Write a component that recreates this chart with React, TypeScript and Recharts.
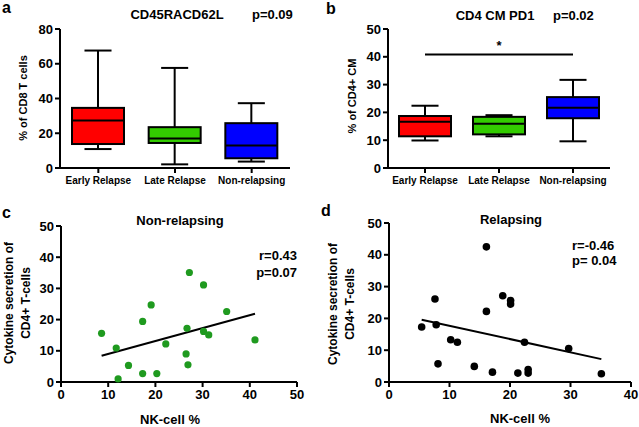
import React from 'react';
import {
  ComposedChart, Bar, XAxis, YAxis, ScatterChart, Scatter, ReferenceLine,
} from 'recharts';

const groups = ['Early Relapse', 'Late Relapse', 'Non-relapsing'];
const groupColors = ['#ff0000', '#33cc00', '#0000ff'];

// panel a: CD45RACD62L (% of CD8 T cells)
const cd8Min = [10.9, 2.1, 3.7];
const cd8Q1 = [13.8, 14.4, 5.6];
const cd8Median = [27.3, 17.0, 13.0];
const cd8Q3 = [34.6, 23.5, 25.8];
const cd8Max = [67.6, 57.6, 37.3];
const cd8Ticks = [0, 20, 40, 60, 80];

// panel b: CD4 CM PD1 (% of CD4+ CM)
const pd1Min = [9.9, 11.4, 9.6];
const pd1Q1 = [11.4, 12.1, 17.9];
const pd1Median = [16.6, 15.9, 21.7];
const pd1Q3 = [18.7, 18.4, 25.5];
const pd1Max = [22.4, 19.0, 31.7];
const pd1Ticks = [0, 10, 20, 30, 40, 50];
const pd1Signif = 40.8;

// panel c: non-relapsing
const nonRelX = [8.6, 11.7, 12.1, 14.3, 17.3, 17.3, 19.1, 20.3, 22.2, 26.5, 26.7, 26.9, 27.2, 30.2, 30.2, 31.3, 35.1, 41.1];
const nonRelY = [15.6, 10.9, 1.0, 5.3, 19.4, 2.7, 24.7, 2.7, 12.2, 9.0, 17.2, 5.5, 35.1, 31.1, 16.2, 15.1, 22.6, 13.5];
const nonRelTrendX = [8.6, 41.1];
const nonRelTrendY = [8.4, 21.9];

// panel d: relapsing
const relX = [5.4, 7.6, 7.8, 8.1, 10.2, 11.3, 14.1, 16.1, 16.1, 17.1, 18.8, 20.1, 20.1, 21.3, 22.4, 23.0, 23.0, 29.7, 35.1];
const relY = [17.3, 26.1, 18.0, 5.7, 13.3, 12.5, 4.9, 42.5, 22.2, 3.1, 27.1, 25.6, 24.5, 2.8, 12.5, 3.9, 2.8, 10.5, 2.6];
const relTrendX = [5.4, 35.1];
const relTrendY = [19.6, 7.2];

const scatterTicksC = [0, 10, 20, 30, 40, 50];
const scatterTicksD = [0, 10, 20, 30, 40];

const FONT = '"Liberation Sans", Arial, sans-serif';

const buildBoxes = (mn: number[], q1: number[], med: number[], q3: number[], mx: number[]) =>
  groups.map((name, i) => ({
    name, color: groupColors[i],
    min: mn[i], q1: q1[i], median: med[i], q3: q3[i], max: mx[i],
    range: [mn[i], mx[i]],
  }));

const toPoints = (xs: number[], ys: number[]) => xs.map((x, i) => ({ x, y: ys[i] }));

const BoxShape = (props: any) => {
  const { x, y, width, height, payload } = props;
  const top = Math.min(y, y + height);
  const bottom = Math.max(y, y + height);
  const span = payload.max - payload.min;
  const py = (v: number) => top + ((payload.max - v) / span) * (bottom - top);
  const cx = x + width / 2;
  const cap = width * 0.26;
  return (
    <g>
      <line x1={cx} x2={cx} y1={py(payload.max)} y2={py(payload.q3)} stroke="#000" strokeWidth={2} />
      <line x1={cx} x2={cx} y1={py(payload.q1)} y2={py(payload.min)} stroke="#000" strokeWidth={2} />
      <line x1={cx - cap} x2={cx + cap} y1={py(payload.max)} y2={py(payload.max)} stroke="#000" strokeWidth={2} />
      <line x1={cx - cap} x2={cx + cap} y1={py(payload.min)} y2={py(payload.min)} stroke="#000" strokeWidth={2} />
      <rect x={x} y={py(payload.q3)} width={width} height={py(payload.q1) - py(payload.q3)}
        fill={payload.color} stroke="#000" strokeWidth={2} />
      <line x1={x} x2={x + width} y1={py(payload.median)} y2={py(payload.median)} stroke="#000" strokeWidth={2} />
    </g>
  );
};

const axisStyle = { stroke: '#000', strokeWidth: 2 };
const tickFont = { fontFamily: FONT, fontWeight: 700, fontSize: 13, fill: '#000' };
const catFont = { fontFamily: FONT, fontWeight: 700, fontSize: 10, fill: '#000' };

const BoxPanel = ({ data, width, yWidth, right, domain, ticks, signif }: any) => (
  <ComposedChart width={width} height={210} data={data} margin={{ top: 29, right, bottom: 0, left: 0 }}>
    <XAxis dataKey="name" height={42} axisLine={axisStyle} tickLine={axisStyle} tickSize={5}
      tick={catFont} tickMargin={4} interval={0} />
    <YAxis width={yWidth} domain={domain} ticks={ticks} axisLine={axisStyle} tickLine={axisStyle}
      tickSize={5} tick={tickFont} interval={0} />
    <Bar dataKey="range" barSize={52} shape={(p: any) => <BoxShape {...p} />} isAnimationActive={false} />
    {signif !== undefined && (
      <ReferenceLine segment={[{ x: groups[0], y: signif }, { x: groups[2], y: signif }]}
        stroke="#000" strokeWidth={2}
        label={{ value: '*', position: 'top', fontFamily: FONT, fontWeight: 700, fontSize: 13, fill: '#000' }} />
    )}
  </ComposedChart>
);

const ScatterPanel = ({ points, trend, width, top, yWidth, right, domainX, ticksX, color, r }: any) => (
  <ScatterChart width={width} height={217} margin={{ top, right, bottom: 0, left: 0 }}>
    <XAxis type="number" dataKey="x" domain={domainX} ticks={ticksX} height={45} axisLine={axisStyle}
      tickLine={axisStyle} tickSize={5} tick={tickFont} tickMargin={3} interval={0} />
    <YAxis type="number" dataKey="y" domain={[0, 50]} ticks={[0, 10, 20, 30, 40, 50]} width={yWidth}
      axisLine={axisStyle} tickLine={axisStyle} tickSize={5} tick={tickFont} interval={0} />
    <ReferenceLine segment={trend} stroke="#000" strokeWidth={2} />
    <Scatter data={points} isAnimationActive={false}
      shape={(p: any) => <circle cx={p.cx} cy={p.cy} r={r} fill={color} />} />
  </ScatterChart>
);

const T = ({ x, y, size = 13, anchor = 'start', children }: any) => (
  <text x={x} y={y} fontFamily={FONT} fontWeight={700} fontSize={size} textAnchor={anchor} fill="#000">
    {children}
  </text>
);

const VT = ({ x, y, size = 11, children }: any) => (
  <text transform={`translate(${x},${y}) rotate(-90)`} fontFamily={FONT} fontWeight={700} fontSize={size}
    textAnchor="middle" dominantBaseline="central" fill="#000">
    {children}
  </text>
);

export default function App() {
  const cd8 = buildBoxes(cd8Min, cd8Q1, cd8Median, cd8Q3, cd8Max);
  const pd1 = buildBoxes(pd1Min, pd1Q1, pd1Median, pd1Q3, pd1Max);
  const nonRel = toPoints(nonRelX, nonRelY);
  const rel = toPoints(relX, relY);
  const nonRelTrend = toPoints(nonRelTrendX, nonRelTrendY);
  const relTrend = toPoints(relTrendX, relTrendY);

  return (
    <div style={{ position: 'absolute', left: 0, top: 0, width: 639, height: 427, background: '#fff' }}>
      <div style={{ position: 'absolute', left: 0, top: 0 }}>
        <BoxPanel data={cd8} width={320} yWidth={60} right={30} domain={[0, 80]} ticks={cd8Ticks} />
      </div>
      <div style={{ position: 'absolute', left: 320, top: 0 }}>
        <BoxPanel data={pd1} width={319} yWidth={68} right={29} domain={[0, 50]} ticks={pd1Ticks} signif={pd1Signif} />
      </div>
      <div style={{ position: 'absolute', left: 0, top: 210 }}>
        <ScatterPanel points={nonRel} trend={nonRelTrend} width={320} top={16} yWidth={61} right={23}
          domainX={[0, 50]} ticksX={scatterTicksC} color="#1f9a1f" r={3.6} />
      </div>
      <div style={{ position: 'absolute', left: 320, top: 210 }}>
        <ScatterPanel points={rel} trend={relTrend} width={319} top={13} yWidth={69} right={8}
          domainX={[0, 40]} ticksX={scatterTicksD} color="#000" r={3.8} />
      </div>
      <svg width={639} height={427} style={{ position: 'absolute', left: 0, top: 0, pointerEvents: 'none' }}>
        <T x={2} y={13} size={16}>a</T>
        <T x={177} y={19} anchor="middle">CD45RACD62L</T>
        <T x={252} y={19}>p=0.09</T>
        <VT x={23} y={98}>% of CD8 T cells</VT>

        <T x={326} y={14} size={16}>b</T>
        <T x={495} y={20} anchor="middle">CD4 CM PD1</T>
        <T x={553} y={20}>p=0.02</T>
        <VT x={352} y={96}>% of CD4+ CM</VT>

        <T x={2} y={218} size={16}>c</T>
        <T x={180} y={225} anchor="middle">Non-relapsing</T>
        <T x={297} y={260} anchor="end">r=0.43</T>
        <T x={297} y={277} anchor="end">p=0.07</T>
        <VT x={9} y={303} size={12}>Cytokine secretion of</VT>
        <VT x={26} y={303} size={12}>CD4+ T-cells</VT>
        <T x={170} y={424} anchor="middle">NK-cell %</T>

        <T x={321} y={216} size={16}>d</T>
        <T x={511} y={224} anchor="middle">Relapsing</T>
        <T x={572} y={250}>r=-0.46</T>
        <T x={572} y={265}>p= 0.04</T>
        <VT x={333} y={304} size={12}>Cytokine secretion of</VT>
        <VT x={350} y={304} size={12}>CD4+ T-cells</VT>
        <T x={520} y={423} anchor="middle">NK-cell %</T>
      </svg>
    </div>
  );
}
